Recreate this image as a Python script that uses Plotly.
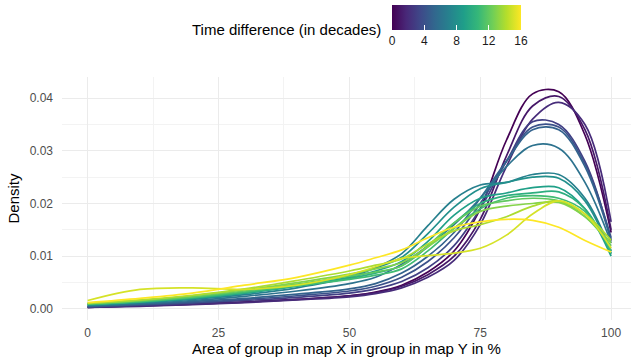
import plotly.graph_objects as go
from plotly.colors import sample_colorscale

x_pts = [0, 10, 20, 30, 40, 50, 55, 60, 65, 70, 75, 80, 85, 90, 95, 100]

# Time difference (decades) for each curve
time_diff = list(range(17))

# density values per curve, read at x_pts
d0 = [0.0003, 0.0006, 0.0009, 0.0013, 0.0018, 0.0025, 0.0032, 0.0045, 0.0070, 0.0110, 0.0190, 0.0320, 0.0408, 0.0412, 0.0330, 0.0145]
d1 = [0.0003, 0.0006, 0.0009, 0.0013, 0.0018, 0.0025, 0.0031, 0.0043, 0.0065, 0.0100, 0.0170, 0.0290, 0.0385, 0.0403, 0.0340, 0.0150]
d2 = [0.0003, 0.0005, 0.0008, 0.0012, 0.0017, 0.0023, 0.0029, 0.0040, 0.0060, 0.0092, 0.0160, 0.0270, 0.0360, 0.0392, 0.0350, 0.0165]
d3 = [0.0004, 0.0007, 0.0011, 0.0016, 0.0022, 0.0030, 0.0038, 0.0052, 0.0078, 0.0120, 0.0190, 0.0280, 0.0355, 0.0350, 0.0280, 0.0130]
d4 = [0.0004, 0.0008, 0.0012, 0.0018, 0.0025, 0.0034, 0.0043, 0.0060, 0.0090, 0.0135, 0.0200, 0.0280, 0.0345, 0.0345, 0.0275, 0.0135]
d5 = [0.0005, 0.0009, 0.0014, 0.0020, 0.0028, 0.0038, 0.0048, 0.0068, 0.0100, 0.0145, 0.0210, 0.0280, 0.0340, 0.0340, 0.0270, 0.0130]
d6 = [0.0006, 0.0010, 0.0016, 0.0024, 0.0034, 0.0048, 0.0060, 0.0085, 0.0120, 0.0160, 0.0210, 0.0270, 0.0310, 0.0305, 0.0240, 0.0125]
d7 = [0.0007, 0.0012, 0.0018, 0.0027, 0.0040, 0.0060, 0.0078, 0.0105, 0.0158, 0.0208, 0.0235, 0.0240, 0.0255, 0.0255, 0.0210, 0.0110]
d8 = [0.0008, 0.0013, 0.0020, 0.0030, 0.0045, 0.0064, 0.0078, 0.0098, 0.0143, 0.0193, 0.0228, 0.0240, 0.0250, 0.0248, 0.0205, 0.0105]
d9 = [0.0008, 0.0013, 0.0020, 0.0030, 0.0043, 0.0060, 0.0072, 0.0090, 0.0128, 0.0178, 0.0210, 0.0220, 0.0230, 0.0230, 0.0190, 0.0100]
d10 = [0.0009, 0.0014, 0.0021, 0.0031, 0.0044, 0.0058, 0.0068, 0.0082, 0.0118, 0.0163, 0.0200, 0.0215, 0.0220, 0.0222, 0.0190, 0.0105]
d11 = [0.0009, 0.0014, 0.0022, 0.0032, 0.0044, 0.0056, 0.0064, 0.0076, 0.0110, 0.0153, 0.0190, 0.0210, 0.0215, 0.0210, 0.0185, 0.0110]
d12 = [0.0010, 0.0015, 0.0023, 0.0034, 0.0047, 0.0062, 0.0070, 0.0082, 0.0120, 0.0163, 0.0195, 0.0205, 0.0210, 0.0205, 0.0175, 0.0120]
d13 = [0.0010, 0.0016, 0.0025, 0.0036, 0.0050, 0.0066, 0.0076, 0.0088, 0.0118, 0.0153, 0.0185, 0.0195, 0.0200, 0.0202, 0.0175, 0.0125]
d14 = [0.0011, 0.0017, 0.0026, 0.0038, 0.0054, 0.0072, 0.0083, 0.0095, 0.0123, 0.0148, 0.0160, 0.0175, 0.0195, 0.0205, 0.0180, 0.0130]
d15 = [0.0016, 0.0037, 0.0040, 0.0037, 0.0045, 0.0065, 0.0080, 0.0096, 0.0101, 0.0106, 0.0115, 0.0140, 0.0180, 0.0205, 0.0180, 0.0115]
d16 = [0.0012, 0.0020, 0.0030, 0.0045, 0.0060, 0.0083, 0.0097, 0.0112, 0.0135, 0.0155, 0.0165, 0.0170, 0.0168, 0.0155, 0.0130, 0.0108]

curves = [d0, d1, d2, d3, d4, d5, d6, d7, d8, d9, d10, d11, d12, d13, d14, d15, d16]

x_ticks = [0, 25, 50, 75, 100]
y_ticks = [0.00, 0.01, 0.02, 0.03, 0.04]
y_tick_text = ["0.00", "0.01", "0.02", "0.03", "0.04"]
cbar_ticks = [0, 4, 8, 12, 16]

FONT = "Liberation Sans, Arial, sans-serif"

fig = go.Figure()
tmin, tmax = min(time_diff), max(time_diff)
for t, dens in zip(time_diff, curves):
    col = sample_colorscale("Viridis", (t - tmin) / (tmax - tmin))[0]
    fig.add_trace(go.Scatter(
        x=x_pts, y=dens, mode="lines",
        line=dict(color=col, width=1.7, shape="spline", smoothing=1.0),
        showlegend=False, hoverinfo="skip"))

# colour bar trace (points outside visible range)
fig.add_trace(go.Scatter(
    x=[50, 50], y=[-1, -1], mode="markers",
    marker=dict(color=[tmin, tmax], cmin=tmin, cmax=tmax, colorscale="Viridis",
                size=1, showscale=True,
                colorbar=dict(orientation="h", x=(392 - 62) / 569, xanchor="left",
                              y=(320 - 5) / 243, yanchor="top",
                              lenmode="pixels", len=129, thickness=25,
                              xpad=0, ypad=0, outlinewidth=0,
                              tickvals=cbar_ticks, ticks="inside", ticklen=5,
                              tickcolor="white", tickwidth=1,
                              tickfont=dict(family=FONT, size=12, color="#1a1a1a"))),
    showlegend=False, hoverinfo="skip"))

fig.add_annotation(text="Time difference (in decades)", xref="paper", yref="paper",
                   x=(383 - 62) / 569, y=(320 - 29) / 243, xanchor="right", yanchor="middle",
                   showarrow=False, font=dict(family=FONT, size=15, color="black"))

fig.update_layout(
    width=631, height=360,
    margin=dict(l=62, r=0, t=77, b=40, autoexpand=False),
    paper_bgcolor="white", plot_bgcolor="white",
    font=dict(family=FONT),
    xaxis=dict(range=[-4.9, 103.8], tickvals=x_ticks, showline=False, zeroline=False,
               automargin=False,
               gridcolor="#EBEBEB", gridwidth=1.2,
               minor=dict(tickvals=[12.5, 37.5, 62.5, 87.5], showgrid=True,
                          gridcolor="#F3F3F3", gridwidth=0.7),
               tickfont=dict(family=FONT, size=12, color="#4D4D4D"),
               ticks="", ticklabelstandoff=4,
               title=dict(text="Area of group in map X in group in map Y in %",
                          font=dict(family=FONT, size=15, color="black"), standoff=4)),
    yaxis=dict(range=[-0.0021, 0.0440], tickvals=y_ticks, ticktext=y_tick_text,
               showline=False, zeroline=False, automargin=False,
               gridcolor="#EBEBEB", gridwidth=1.2,
               minor=dict(tickvals=[0.005, 0.015, 0.025, 0.035], showgrid=True,
                          gridcolor="#F3F3F3", gridwidth=0.7),
               tickfont=dict(family=FONT, size=12, color="#4D4D4D"),
               ticks="", ticklabelstandoff=8,
               title=dict(text="Density", font=dict(family=FONT, size=15, color="black"),
                          standoff=6)),
)

fig.write_html("out.html", config={"displayModeBar": False},
               post_script="document.body.style.margin='0';")
